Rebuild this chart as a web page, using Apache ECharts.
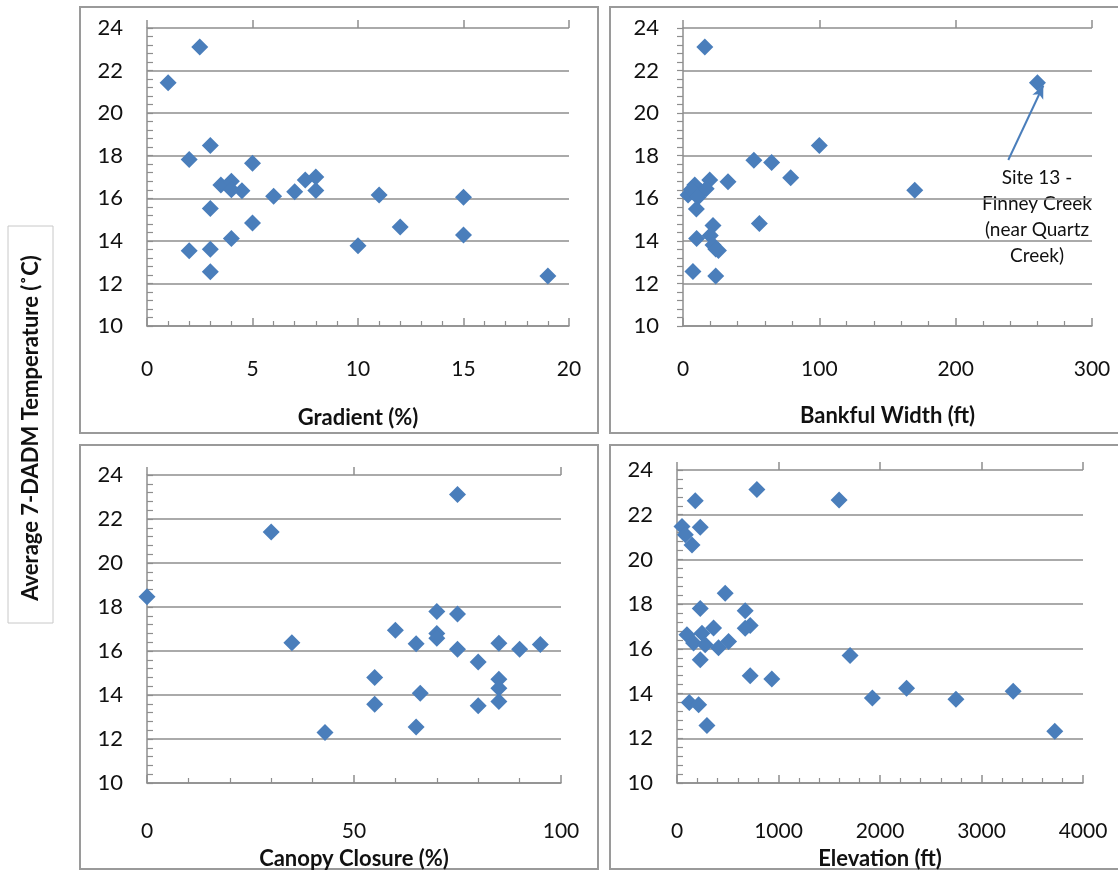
<!DOCTYPE html>
<html>
<head>
<meta charset="utf-8">
<script src="https://cdn.jsdelivr.net/npm/echarts@6/dist/echarts.min.js"></script>
<style>
  html, body { margin: 0; padding: 0; background: #ffffff; }
  #chart { width: 1118px; height: 871px; }
</style>
</head>
<body>
<div id="chart"></div>
<script>
// readings per panel: [x, temperature]
const gradientPts = [
  [1, 21.43], [2.5, 23.11], [2, 17.82], [3, 18.48], [5, 17.65], [3.5, 16.62],
  [4, 16.8], [4, 16.4], [4.5, 16.35], [6, 16.1], [7, 16.31], [7.5, 16.86],
  [8, 17.0], [8, 16.37], [11, 16.15], [15, 16.05], [3, 15.52], [5, 14.84],
  [4, 14.11], [2, 13.54], [3, 13.6], [3, 12.55], [10, 13.77], [12, 14.65],
  [15, 14.27], [19, 12.35]
];
const bankfulPts = [
  [16, 23.11], [260, 21.43], [100, 18.48], [52, 17.79], [65, 17.68], [79, 16.96],
  [33, 16.78], [170, 16.38], [56, 14.82], [8.6, 16.63], [19.6, 16.86], [3.7, 16.16],
  [13.5, 16.31], [6, 16.4], [11, 16.05], [17, 16.45], [9.8, 15.5], [22, 14.72],
  [10, 14.11], [20, 14.25], [22, 13.8], [26, 13.55], [24, 13.62], [7.3, 12.56],
  [24, 12.35]
];
const canopyPts = [
  [0, 18.47], [30, 21.41], [75, 23.11], [35, 16.38], [43, 12.3], [55, 14.79],
  [55, 13.58], [60, 16.94], [65, 16.33], [66, 14.08], [65, 12.54], [70, 17.79],
  [70, 16.8], [70, 16.58], [75, 17.68], [75, 16.08], [80, 15.5], [80, 13.51],
  [85, 16.35], [85, 14.72], [85, 14.31], [85, 13.71], [90, 16.08], [95, 16.3]
];
const elevationPts = [
  [787, 23.13], [1597, 22.66], [180, 22.63], [49, 21.47], [229, 21.44], [82, 21.1],
  [148, 20.65], [475, 18.49], [229, 17.8], [672, 17.71], [721, 17.04], [672, 16.92],
  [98, 16.63], [360, 16.93], [246, 16.7], [163, 16.26], [278, 16.18], [409, 16.05],
  [508, 16.33], [229, 15.51], [721, 14.8], [934, 14.65], [121, 13.6], [213, 13.5],
  [295, 12.57], [1705, 15.7], [1925, 13.8], [2262, 14.24], [2748, 13.75],
  [3312, 14.1], [3722, 12.31]
];
const xNames = ['Gradient (%)', 'Bankful Width (ft)', 'Canopy Closure (%)', 'Elevation (ft)'];
const xMax = [20, 300, 100, 4000];
const xStep = [5, 100, 50, 1000];
const yMin = 10, yMax = 24, yStep = 2;
const yTitle = 'Average 7-DADM Temperature (˚C)';
const noteText = 'Site 13 -\nFinney Creek\n(near Quartz\nCreek)';

const FONT = 'Lato, "Open Sans", sans-serif';
const GRID_C = '#8e8e8e';
const MARK_C = '#4a7ebb';
const TXT_C = '#111111';

const grids = [
  { left: 147, top: 28, width: 422, height: 298 },
  { left: 683, top: 28, width: 409, height: 298 },
  { left: 147, top: 475, width: 414, height: 308 },
  { left: 677, top: 470, width: 406, height: 313 }
];
const labelGap = [33, 33, 38, 38];
const nameGap = [81, 79, 65, 65];
const allPts = [gradientPts, bankfulPts, canopyPts, elevationPts];

const xAxes = [], yAxes = [], series = [];
for (let i = 0; i < 4; i++) {
  // main x axis: labels, inside ticks, minor ticks
  xAxes.push({
    gridIndex: i, type: 'value', min: 0, max: xMax[i], interval: xStep[i],
    name: xNames[i], nameLocation: 'middle', nameGap: nameGap[i],
    nameTextStyle: { fontFamily: FONT, fontWeight: 'bold', fontSize: 22, color: TXT_C },
    axisLine: { show: true, lineStyle: { color: GRID_C, width: 1.5 } },
    axisTick: { show: true, inside: true, length: 8, lineStyle: { color: GRID_C, width: 1.5 } },
    minorTick: { show: true, splitNumber: 5, length: 5, lineStyle: { color: GRID_C, width: 1.2 } },
    axisLabel: { fontFamily: FONT, fontSize: 21, color: TXT_C, margin: labelGap[i], formatter: v => String(v) },
    splitLine: { show: false }
  });
  // overlay axis for the lower half of the crossing major ticks
  xAxes.push({
    gridIndex: i, type: 'value', min: 0, max: xMax[i], interval: xStep[i],
    axisLine: { show: false },
    axisTick: { show: true, inside: false, length: 8, lineStyle: { color: GRID_C, width: 1.5 } },
    axisLabel: { show: false }, splitLine: { show: false }
  });
  yAxes.push({
    gridIndex: i, type: 'value', min: yMin, max: yMax, interval: yStep,
    axisLine: { show: true, lineStyle: { color: GRID_C, width: 1.5 } },
    axisTick: { show: true, inside: i !== 1, length: 6, lineStyle: { color: GRID_C, width: 1.2 } },
    minorTick: { show: true, splitNumber: 5, length: 6, lineStyle: { color: GRID_C, width: 1.2 } },
    axisLabel: { fontFamily: FONT, fontSize: 22, color: TXT_C, margin: 24 },
    splitLine: { show: true, lineStyle: { color: GRID_C, width: 1.5 } }
  });
  const s = {
    type: 'scatter', xAxisIndex: i * 2, yAxisIndex: i,
    data: allPts[i], symbol: 'diamond', symbolSize: 17,
    itemStyle: { color: MARK_C, opacity: 1 },
    z: 3
  };
  if (i === 1) {
    s.markLine = {
      silent: true, symbol: ['none', 'arrow'], symbolSize: [9, 13],
      label: { show: false },
      lineStyle: { color: MARK_C, width: 2, type: 'solid' },
      data: [[{ coord: [238.6, 17.8] }, { coord: [264.3, 21.3] }]]
    };
  }
  series.push(s);
}

const chart = echarts.init(document.getElementById('chart'), null, { renderer: 'canvas' });
chart.setOption({
  backgroundColor: '#ffffff',
  animation: false,
  grid: grids,
  xAxis: xAxes,
  yAxis: yAxes,
  series: series,
  graphic: [
    // panel frames
    { type: 'rect', shape: { x: 80, y: 7, width: 518, height: 426 }, style: { fill: 'none', stroke: '#9a9a9a', lineWidth: 2 } },
    { type: 'rect', shape: { x: 610, y: 7, width: 512, height: 426 }, style: { fill: 'none', stroke: '#9a9a9a', lineWidth: 2 } },
    { type: 'rect', shape: { x: 80, y: 445, width: 518, height: 424 }, style: { fill: 'none', stroke: '#9a9a9a', lineWidth: 2 } },
    { type: 'rect', shape: { x: 610, y: 445, width: 512, height: 424 }, style: { fill: 'none', stroke: '#9a9a9a', lineWidth: 2 } },
    // y title box
    { type: 'rect', shape: { x: 8, y: 226, width: 45, height: 397 }, style: { fill: '#fff', stroke: '#c8c8c8', lineWidth: 1 } },
    {
      type: 'text', x: 31, y: 428, rotation: Math.PI / 2,
      style: { text: yTitle, font: 'bold 22px ' + FONT, fill: TXT_C, align: 'center', verticalAlign: 'middle' }
    },
    {
      type: 'text', x: 1037, y: 165,
      style: { text: noteText, font: '19px ' + FONT, fill: TXT_C, align: 'center', verticalAlign: 'top', lineHeight: 26 }
    }
  ]
});
</script>
</body>
</html>
